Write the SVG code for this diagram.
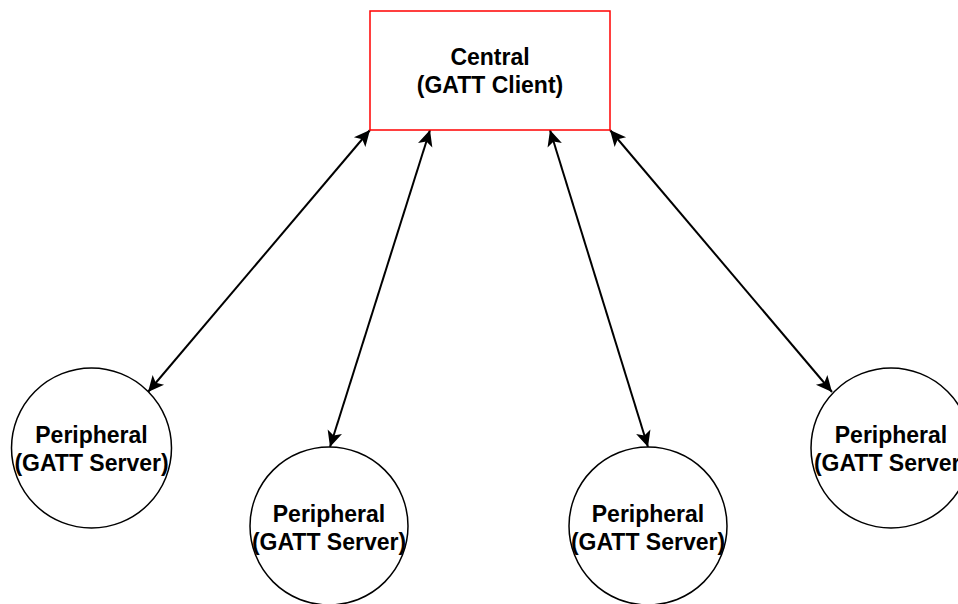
<svg xmlns="http://www.w3.org/2000/svg" width="958" height="604" viewBox="0 0 958 604">
<style>
.lbl{font-family:"Liberation Sans",Arial,Helvetica,sans-serif;font-weight:bold;font-size:23px;fill:#000;text-anchor:middle}
.node{fill:#fff;stroke:#000;stroke-width:1.5}
.conn{stroke:#000;stroke-width:2;fill:none;marker-start:url(#ah);marker-end:url(#ah)}
</style>
<defs>
<marker id="ah" markerUnits="userSpaceOnUse" viewBox="-18 -9 19 18" refX="0" refY="0" markerWidth="19" markerHeight="18" orient="auto-start-reverse">
<path d="M0,0 L-16,-7.5 L-12,0 L-16,7.5 Z" fill="#000"/>
</marker>
</defs>
<rect width="958" height="604" fill="#fff"/>
<g id="connectors">
<line class="conn" x1="370" y1="130" x2="148" y2="392"/>
<line class="conn" x1="430" y1="130" x2="330" y2="447"/>
<line class="conn" x1="550" y1="130" x2="648" y2="447"/>
<line class="conn" x1="610" y1="130" x2="832" y2="392"/>
</g>
<g id="central">
<rect x="370" y="11" width="240" height="119" fill="#fff" stroke="#ff0000" stroke-width="1.5"/>
<text class="lbl" x="490" y="65">Central</text>
<text class="lbl" x="490" y="93">(GATT Client)</text>
</g>
<g id="peripheral1">
<circle class="node" cx="91.5" cy="448" r="80"/>
<text class="lbl" x="91.5" y="443">Peripheral</text>
<text class="lbl" x="91.5" y="471">(GATT Server)</text>
</g>
<g id="peripheral2">
<circle class="node" cx="329" cy="526" r="79"/>
<text class="lbl" x="329" y="522">Peripheral</text>
<text class="lbl" x="329" y="550">(GATT Server)</text>
</g>
<g id="peripheral3">
<circle class="node" cx="648" cy="526" r="79"/>
<text class="lbl" x="648" y="522">Peripheral</text>
<text class="lbl" x="648" y="550">(GATT Server)</text>
</g>
<g id="peripheral4">
<circle class="node" cx="891" cy="448" r="80"/>
<text class="lbl" x="891" y="443">Peripheral</text>
<text class="lbl" x="891" y="471">(GATT Server)</text>
</g>
</svg>
